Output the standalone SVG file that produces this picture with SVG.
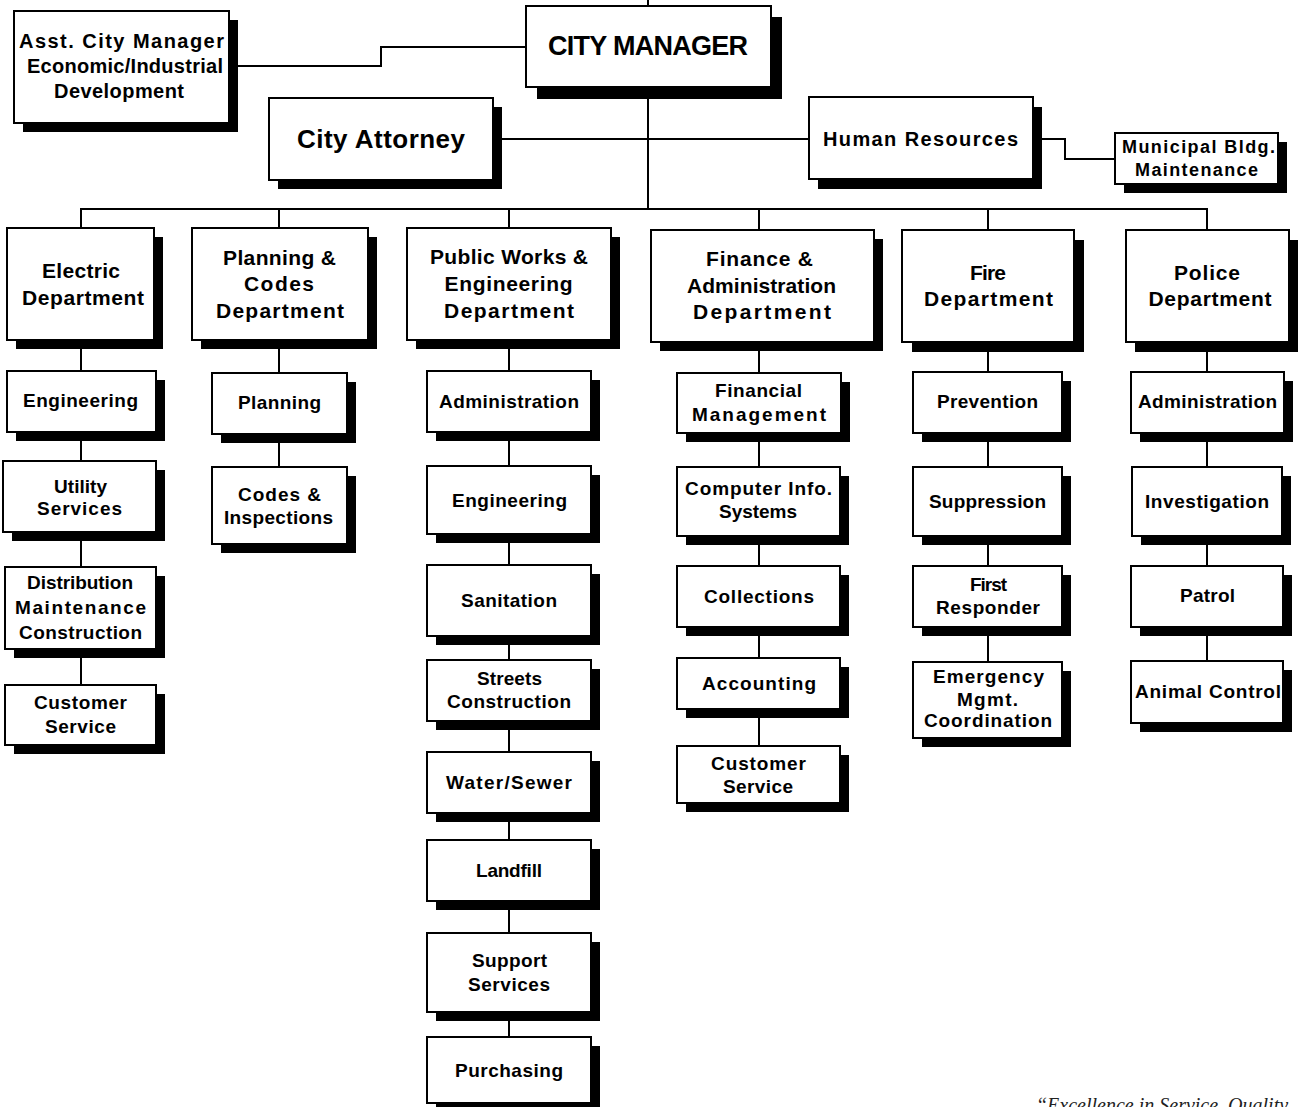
<svg xmlns="http://www.w3.org/2000/svg" width="1301" height="1107" viewBox="0 0 1301 1107">
<style>
.box{fill:#fff;stroke:#000;stroke-width:2}
.sh{fill:#000}
.c{stroke:#000;stroke-width:2;fill:none}
text{font-family:"Liberation Sans",Arial,sans-serif;font-weight:bold;text-anchor:middle;fill:#000}
.d{font-size:21px}
.s{font-size:19px}
.q{font-family:"Liberation Serif","Times New Roman",serif;font-weight:normal;font-style:italic;font-size:20px;text-anchor:start;fill:#222}
</style>
<rect width="1301" height="1107" fill="#fff"/>
<g id="connectors">
<line class="c" x1="648" y1="0" x2="648" y2="209"/>
<polyline class="c" points="229,66 381,66 381,47 526,47"/>
<line class="c" x1="493" y1="139" x2="809" y2="139"/>
<polyline class="c" points="1033,139 1065,139 1065,159 1115,159"/>
<line class="c" x1="80" y1="209" x2="1208" y2="209"/>
<line class="c" x1="81" y1="209" x2="81" y2="686"/>
<line class="c" x1="279" y1="209" x2="279" y2="468"/>
<line class="c" x1="509" y1="209" x2="509" y2="1038"/>
<line class="c" x1="759" y1="209" x2="759" y2="747"/>
<line class="c" x1="988" y1="209" x2="988" y2="663"/>
<line class="c" x1="1207" y1="209" x2="1207" y2="662"/>
</g>
<g id="asst"><rect class="sh" x="23" y="20" width="215" height="112"/><rect class="box" x="14" y="11" width="215" height="112"/>
<text x="121.5" y="48" font-size="20" textLength="205" lengthAdjust="spacing">Asst. City Manager</text>
<text x="125" y="73" font-size="20" textLength="196" lengthAdjust="spacing">Economic/Industrial</text>
<text x="119" y="98" font-size="20" textLength="130" lengthAdjust="spacing">Development</text></g>
<g id="city-manager"><rect class="sh" x="537" y="17" width="245" height="82"/><rect class="box" x="526" y="6" width="245" height="81"/>
<text x="648" y="55" font-size="27" textLength="200" lengthAdjust="spacing">CITY MANAGER</text></g>
<g id="city-attorney"><rect class="sh" x="278" y="107" width="224" height="82"/><rect class="box" x="269" y="98" width="224" height="82"/>
<text x="381" y="148" font-size="26" textLength="168" lengthAdjust="spacing">City Attorney</text></g>
<g id="human-resources"><rect class="sh" x="818" y="107" width="224" height="82"/><rect class="box" x="809" y="97" width="224" height="82"/>
<text x="920.5" y="146" font-size="20" textLength="195" lengthAdjust="spacing">Human Resources</text></g>
<g id="municipal"><rect class="sh" x="1124" y="142" width="163" height="51"/><rect class="box" x="1115" y="133" width="163" height="51"/>
<text x="1198.5" y="153" font-size="18" textLength="153" lengthAdjust="spacing">Municipal Bldg.</text>
<text x="1196.5" y="176" font-size="18" textLength="123" lengthAdjust="spacing">Maintenance</text></g>

<g id="electric"><rect class="sh" x="16" y="237" width="147" height="112"/><rect class="box" x="7" y="228" width="147" height="112"/>
<text class="d" x="81" y="278" textLength="78" lengthAdjust="spacing">Electric</text>
<text class="d" x="83" y="305" textLength="122" lengthAdjust="spacing">Department</text></g>
<g id="planning"><rect class="sh" x="201" y="237" width="176" height="112"/><rect class="box" x="192" y="228" width="176" height="112"/>
<text class="d" x="279.5" y="265" textLength="113" lengthAdjust="spacing">Planning &amp;</text>
<text class="d" x="279" y="291" textLength="70" lengthAdjust="spacing">Codes</text>
<text class="d" x="280" y="318" textLength="128" lengthAdjust="spacing">Department</text></g>
<g id="public-works"><rect class="sh" x="416" y="237" width="204" height="112"/><rect class="box" x="407" y="228" width="204" height="112"/>
<text class="d" x="509" y="264" textLength="158" lengthAdjust="spacing">Public Works &amp;</text>
<text class="d" x="508.5" y="291" textLength="128" lengthAdjust="spacing">Engineering</text>
<text class="d" x="509" y="318" textLength="130" lengthAdjust="spacing">Department</text></g>
<g id="finance"><rect class="sh" x="660" y="239" width="223" height="112"/><rect class="box" x="651" y="230" width="223" height="112"/>
<text class="d" x="759.5" y="266" textLength="107" lengthAdjust="spacing">Finance &amp;</text>
<text class="d" x="761.5" y="293" textLength="149" lengthAdjust="spacing">Administration</text>
<text class="d" x="762" y="319" textLength="138" lengthAdjust="spacing">Department</text></g>
<g id="fire"><rect class="sh" x="912" y="240" width="172" height="112"/><rect class="box" x="902" y="230" width="172" height="112"/>
<text class="d" x="988" y="280" textLength="36" lengthAdjust="spacing">Fire</text>
<text class="d" x="988.5" y="306" textLength="129" lengthAdjust="spacing">Department</text></g>
<g id="police"><rect class="sh" x="1135" y="240" width="163" height="112"/><rect class="box" x="1126" y="230" width="163" height="112"/>
<text class="d" x="1207" y="280" textLength="66" lengthAdjust="spacing">Police</text>
<text class="d" x="1210" y="306" textLength="123" lengthAdjust="spacing">Department</text></g>

<g id="e-engineering"><rect class="sh" x="16" y="380" width="149" height="61"/><rect class="box" x="7" y="371" width="149" height="61"/>
<text class="s" x="80.5" y="407" textLength="115" lengthAdjust="spacing">Engineering</text></g>
<g id="e-utility"><rect class="sh" x="12" y="470" width="153" height="71"/><rect class="box" x="3" y="461" width="153" height="71"/>
<text class="s" x="80.5" y="493" textLength="53" lengthAdjust="spacing">Utility</text>
<text class="s" x="79.5" y="515" textLength="85" lengthAdjust="spacing">Services</text></g>
<g id="e-distribution"><rect class="sh" x="14" y="576" width="151" height="82"/><rect class="box" x="5" y="567" width="151" height="82"/>
<text class="s" x="80" y="589" textLength="106" lengthAdjust="spacing">Distribution</text>
<text class="s" x="80.5" y="614" textLength="131" lengthAdjust="spacing">Maintenance</text>
<text class="s" x="80.5" y="639" textLength="123" lengthAdjust="spacing">Construction</text></g>
<g id="e-customer"><rect class="sh" x="14" y="694" width="151" height="60"/><rect class="box" x="5" y="685" width="151" height="60"/>
<text class="s" x="80.5" y="709" textLength="93" lengthAdjust="spacing">Customer</text>
<text class="s" x="80.5" y="733" textLength="71" lengthAdjust="spacing">Service</text></g>

<g id="p-planning"><rect class="sh" x="221" y="382" width="135" height="61"/><rect class="box" x="212" y="373" width="135" height="61"/>
<text class="s" x="279.5" y="409" textLength="83" lengthAdjust="spacing">Planning</text></g>
<g id="p-codes"><rect class="sh" x="221" y="476" width="135" height="77"/><rect class="box" x="212" y="467" width="135" height="77"/>
<text class="s" x="279.5" y="501" textLength="83" lengthAdjust="spacing">Codes &amp;</text>
<text class="s" x="278.5" y="524" textLength="109" lengthAdjust="spacing">Inspections</text></g>

<g id="pw-admin"><rect class="sh" x="436" y="380" width="164" height="61"/><rect class="box" x="427" y="371" width="164" height="61"/>
<text class="s" x="509" y="408" textLength="140" lengthAdjust="spacing">Administration</text></g>
<g id="pw-engineering"><rect class="sh" x="436" y="475" width="164" height="68"/><rect class="box" x="427" y="466" width="164" height="68"/>
<text class="s" x="509.5" y="507" textLength="115" lengthAdjust="spacing">Engineering</text></g>
<g id="pw-sanitation"><rect class="sh" x="436" y="574" width="164" height="71"/><rect class="box" x="427" y="565" width="164" height="71"/>
<text class="s" x="509" y="607" textLength="96" lengthAdjust="spacing">Sanitation</text></g>
<g id="pw-streets"><rect class="sh" x="436" y="669" width="164" height="61"/><rect class="box" x="427" y="660" width="164" height="61"/>
<text class="s" x="509.5" y="685" textLength="65" lengthAdjust="spacing">Streets</text>
<text class="s" x="509" y="708" textLength="124" lengthAdjust="spacing">Construction</text></g>
<g id="pw-water"><rect class="sh" x="436" y="761" width="164" height="61"/><rect class="box" x="427" y="752" width="164" height="61"/>
<text class="s" x="509" y="789" textLength="126" lengthAdjust="spacing">Water/Sewer</text></g>
<g id="pw-landfill"><rect class="sh" x="436" y="849" width="164" height="61"/><rect class="box" x="427" y="840" width="164" height="61"/>
<text class="s" x="509" y="877" textLength="66" lengthAdjust="spacing">Landfill</text></g>
<g id="pw-support"><rect class="sh" x="436" y="942" width="164" height="79"/><rect class="box" x="427" y="933" width="164" height="79"/>
<text class="s" x="509.5" y="967" textLength="75" lengthAdjust="spacing">Support</text>
<text class="s" x="509" y="991" textLength="82" lengthAdjust="spacing">Services</text></g>
<g id="pw-purchasing"><rect class="sh" x="436" y="1046" width="164" height="66"/><rect class="box" x="427" y="1037" width="164" height="66"/>
<text class="s" x="509" y="1077" textLength="108" lengthAdjust="spacing">Purchasing</text></g>

<g id="f-financial"><rect class="sh" x="686" y="382" width="164" height="60"/><rect class="box" x="677" y="373" width="164" height="60"/>
<text class="s" x="758.5" y="397" textLength="87" lengthAdjust="spacing">Financial</text>
<text class="s" x="759" y="421" textLength="134" lengthAdjust="spacing">Management</text></g>
<g id="f-cis"><rect class="sh" x="686" y="476" width="163" height="69"/><rect class="box" x="677" y="467" width="163" height="69"/>
<text class="s" x="758.5" y="495" textLength="147" lengthAdjust="spacing">Computer Info.</text>
<text class="s" x="758" y="518" textLength="78" lengthAdjust="spacing">Systems</text></g>
<g id="f-collections"><rect class="sh" x="686" y="575" width="163" height="61"/><rect class="box" x="677" y="566" width="163" height="61"/>
<text class="s" x="759" y="603" textLength="110" lengthAdjust="spacing">Collections</text></g>
<g id="f-accounting"><rect class="sh" x="686" y="667" width="163" height="51"/><rect class="box" x="677" y="658" width="163" height="51"/>
<text class="s" x="759" y="690" textLength="114" lengthAdjust="spacing">Accounting</text></g>
<g id="f-customer"><rect class="sh" x="686" y="755" width="163" height="57"/><rect class="box" x="677" y="746" width="163" height="57"/>
<text class="s" x="758.5" y="770" textLength="95" lengthAdjust="spacing">Customer</text>
<text class="s" x="758" y="793" textLength="70" lengthAdjust="spacing">Service</text></g>

<g id="fi-prevention"><rect class="sh" x="922" y="381" width="149" height="61"/><rect class="box" x="913" y="372" width="149" height="61"/>
<text class="s" x="987.5" y="408" textLength="101" lengthAdjust="spacing">Prevention</text></g>
<g id="fi-suppression"><rect class="sh" x="922" y="476" width="149" height="69"/><rect class="box" x="913" y="467" width="149" height="69"/>
<text class="s" x="987.5" y="508" textLength="117" lengthAdjust="spacing">Suppression</text></g>
<g id="fi-first"><rect class="sh" x="922" y="575" width="149" height="61"/><rect class="box" x="913" y="566" width="149" height="61"/>
<text class="s" x="988.5" y="591" textLength="37" lengthAdjust="spacing">First</text>
<text class="s" x="988" y="614" textLength="104" lengthAdjust="spacing">Responder</text></g>
<g id="fi-emergency"><rect class="sh" x="922" y="671" width="149" height="76"/><rect class="box" x="913" y="662" width="149" height="76"/>
<text class="s" x="988.5" y="683" textLength="111" lengthAdjust="spacing">Emergency</text>
<text class="s" x="987.5" y="706" textLength="61" lengthAdjust="spacing">Mgmt.</text>
<text class="s" x="988" y="727" textLength="128" lengthAdjust="spacing">Coordination</text></g>

<g id="po-admin"><rect class="sh" x="1140" y="381" width="153" height="61"/><rect class="box" x="1131" y="372" width="153" height="61"/>
<text class="s" x="1207.5" y="408" textLength="139" lengthAdjust="spacing">Administration</text></g>
<g id="po-investigation"><rect class="sh" x="1141" y="476" width="150" height="69"/><rect class="box" x="1132" y="467" width="150" height="69"/>
<text class="s" x="1207" y="508" textLength="124" lengthAdjust="spacing">Investigation</text></g>
<g id="po-patrol"><rect class="sh" x="1140" y="575" width="152" height="61"/><rect class="box" x="1131" y="566" width="152" height="61"/>
<text class="s" x="1207.5" y="602" textLength="55" lengthAdjust="spacing">Patrol</text></g>
<g id="po-animal"><rect class="sh" x="1140" y="670" width="152" height="62"/><rect class="box" x="1131" y="661" width="152" height="62"/>
<text class="s" x="1208" y="698" textLength="146" lengthAdjust="spacing">Animal Control</text></g>

<text class="q" x="1036" y="1112">“Excellence in Service, Quality</text>
</svg>
